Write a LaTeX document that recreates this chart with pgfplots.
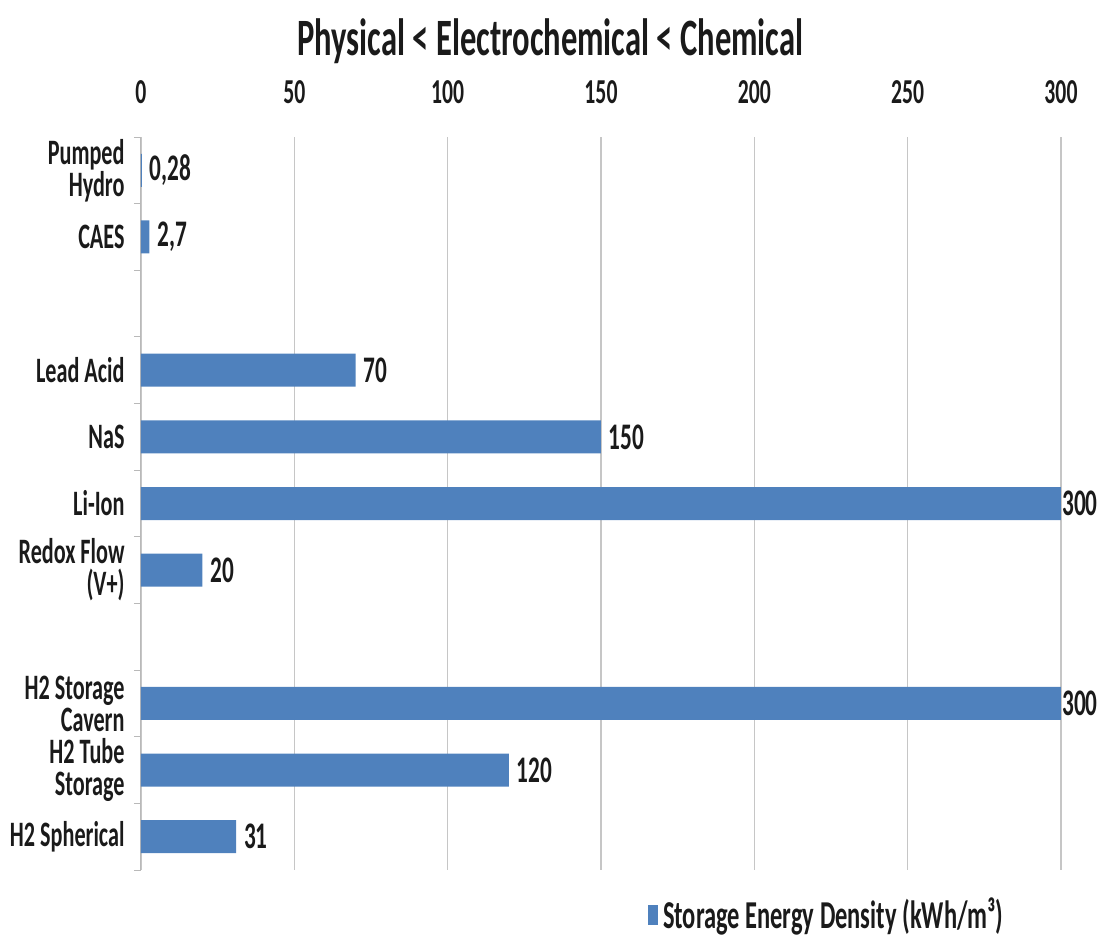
\documentclass[border=0pt]{standalone}
\usepackage{pgfplots}
\pgfplotsset{compat=1.18}
\usepackage{pgfplotstable}
\usepackage{fontspec}
\setmainfont{Carlito}[FakeStretch=0.62]
\definecolor{barblue}{HTML}{4F81BD}
\definecolor{txt}{HTML}{1A1A1A}

\pgfplotstableread{
pos val lab
1 0.28 0,28
2 2.7 2,7
4 70 70
5 150 150
7 20 20
10 120 120
11 31 31
}\densitytable

% the two bars at the axis end, labelled without a gap
\pgfplotstableread{
pos val lab
6 300 300
9 300 300
}\densitymax

\begin{document}
\begin{tikzpicture}
% frame of the whole picture (1 px = 0.4pt)
\path[use as bounding box] (-56.4pt,-26.8pt) rectangle (383.2pt,348pt);
\begin{axis}[
    at={(0pt,0pt)}, anchor=south west,
    scale only axis,
    width=368pt, height=293.2pt,
    xmin=0, xmax=300,
    ymin=0.5, ymax=11.5,
    y dir=reverse,
    xtick={0,50,...,300},
    ytick={1,2,4,5,6,7,9,10,11},
    yticklabels={{Pumped\\Hydro},CAES,Lead Acid,NaS,Li-Ion,{Redox Flow\\(V+)},{H2 Storage\\Cavern},{H2 Tube\\Storage},H2 Spherical},
    minor ytick={0.5,1.5,...,11.5},
    major tick length=0pt,
    minor tick length=2.8pt,
    tick align=outside,
    axis x line*=top,
    axis y line*=left,
    x axis line style={draw=none},
    y axis line style={draw=gray!55},
    every tick/.style={draw=gray!55},
    xmajorgrids,
    major grid style={draw=gray!45, line width=0.5pt},
    /pgf/number format/assume math mode=true,
    xticklabel style={font=\bfseries\fontsize{14}{16}\selectfont, text=txt, anchor=center, yshift=18pt},
    yticklabel style={font=\bfseries\fontsize{14.3}{12.8}\selectfont, text=txt, align=right, inner sep=0pt, xshift=-6.4pt},
    title={Physical < Electrochemical < Chemical},
    title style={font=\bfseries\fontsize{21}{24}\selectfont, text=txt, at={(0.445,1)}, anchor=center, yshift=32.4pt},
    legend style={at={(0.747,0)}, anchor=center, yshift=-18pt, draw=none, fill=none,
        font=\bfseries\fontsize{15.8}{17}\selectfont, text=txt, inner sep=0pt},
    clip=false,
    bar barstyle/.style={xbar, bar shift=0pt, fill=barblue, draw=none, bar width=13.2pt,
        nodes near coords, point meta=explicit symbolic},
]
\addplot[bar barstyle,
    nodes near coords style={font=\bfseries\fontsize{15}{17}\selectfont, text=txt, anchor=west, inner sep=0pt, xshift=3pt},
    legend image code/.code={\fill[barblue] (0pt,-4pt) rectangle (4pt,4pt);}]
    table[x=val, y=pos, meta=lab] {\densitytable};
\addlegendentry{Storage Energy Density (kWh/m³)}
\addplot[bar barstyle, forget plot,
    nodes near coords style={font=\bfseries\fontsize{15}{17}\selectfont, text=txt, anchor=west, inner sep=0pt, xshift=0.3pt}]
    table[x=val, y=pos, meta=lab] {\densitymax};
\end{axis}
\end{tikzpicture}
\end{document}
